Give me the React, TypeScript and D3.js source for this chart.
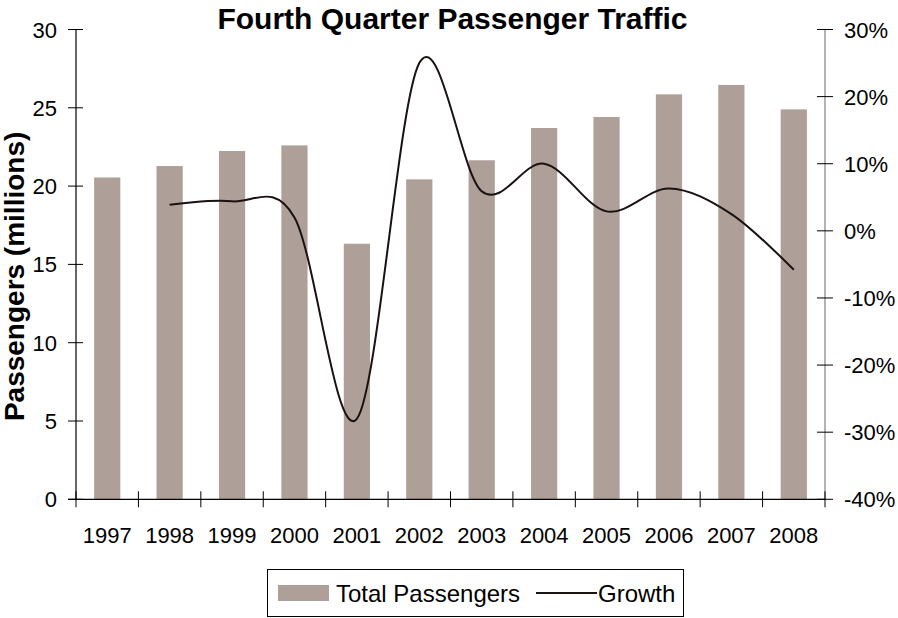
import React, { useEffect, useRef } from 'react';
import * as d3 from 'd3';

const years = ['1997', '1998', '1999', '2000', '2001', '2002', '2003', '2004', '2005', '2006', '2007', '2008'];
const passengers = [20.55, 21.28, 22.24, 22.6, 16.32, 20.43, 21.65, 23.71, 24.41, 25.86, 26.46, 24.9];
const growthYears = ['1998', '1999', '2000', '2001', '2002', '2003', '2004', '2005', '2006', '2007', '2008'];
const growth = [0.039, 0.044, 0.02, -0.28, 0.25, 0.059, 0.1, 0.029, 0.063, 0.025, -0.058];
const leftTicks = [0, 5, 10, 15, 20, 25, 30];
const rightTicks = [-0.4, -0.3, -0.2, -0.1, 0, 0.1, 0.2, 0.3];

const FONT = '"Liberation Sans", Arial, sans-serif';

const App = () => {
  const chartRef = useRef<SVGSVGElement>(null);

  useEffect(() => {
    const svg = d3.select(chartRef.current);
    svg.selectAll('*').remove();

    const width = 898;
    const height = 618;
    const margin = { top: 29.5, right: 73, bottom: 118.7, left: 76 };
    const plotBottom = height - margin.bottom;
    const plotRight = width - margin.right;

    const x = d3.scaleBand().domain(years).range([margin.left, plotRight]).padding(0);
    const barW = x.bandwidth() * 0.42;

    const y = d3.scaleLinear().domain([0, 30]).range([plotBottom, margin.top]);
    const y2 = d3.scaleLinear().domain([-0.4, 0.3]).range([plotBottom, margin.top]);
    const pct = (d: number) => `${Math.round(d * 100)}%`; // plain hyphen, as in the original

    svg.append('rect').attr('width', width).attr('height', height).attr('fill', '#fff');

    // bars
    svg.append('g')
      .selectAll('rect')
      .data(years)
      .join('rect')
        .attr('x', (d) => (x(d) as number) + (x.bandwidth() - barW) / 2)
        .attr('y', (d, i) => y(passengers[i]))
        .attr('width', barW)
        .attr('height', (d, i) => y(0) - y(passengers[i]))
        .attr('fill', '#aea098');

    // growth line, smoothed like the spreadsheet
    const line = d3.line<number>()
      .x((d, i) => (x(growthYears[i]) as number) + x.bandwidth() / 2)
      .y((d) => y2(d))
      .curve(d3.curveCardinal.tension(0));

    svg.append('path')
      .datum(growth)
      .attr('d', line)
      .attr('fill', 'none')
      .attr('stroke', '#1a1111')
      .attr('stroke-width', 2);

    // left axis
    const left = svg.append('g').attr('transform', `translate(${margin.left},0)`);
    left.append('line')
      .attr('y1', margin.top).attr('y2', plotBottom)
      .attr('stroke', '#000').attr('stroke-width', 1.2);
    left.selectAll('line.tick')
      .data(leftTicks)
      .join('line')
        .attr('class', 'tick')
        .attr('x1', -8).attr('x2', 7)
        .attr('y1', (d) => y(d)).attr('y2', (d) => y(d))
        .attr('stroke', '#000');
    left.selectAll('text')
      .data(leftTicks)
      .join('text')
        .attr('x', -19)
        .attr('y', (d) => y(d) + 8)
        .attr('text-anchor', 'end')
        .attr('font-size', 22)
        .attr('font-family', FONT)
        .text((d) => d);

    // right axis
    const right = svg.append('g').attr('transform', `translate(${plotRight},0)`);
    right.append('line')
      .attr('y1', margin.top).attr('y2', plotBottom)
      .attr('stroke', '#808080').attr('stroke-width', 1.2);
    right.selectAll('line.tick')
      .data(rightTicks)
      .join('line')
        .attr('class', 'tick')
        .attr('x1', -8).attr('x2', 8)
        .attr('y1', (d) => y2(d)).attr('y2', (d) => y2(d))
        .attr('stroke', '#000');
    right.selectAll('text')
      .data(rightTicks)
      .join('text')
        .attr('x', 19)
        .attr('y', (d) => y2(d) + 8)
        .attr('font-size', 22)
        .attr('font-family', FONT)
        .text((d) => pct(d));

    // bottom axis
    const bottom = svg.append('g');
    bottom.append('line')
      .attr('x1', margin.left - 8).attr('x2', plotRight)
      .attr('y1', plotBottom).attr('y2', plotBottom)
      .attr('stroke', '#000').attr('stroke-width', 1.2);
    bottom.selectAll('line.tick')
      .data([...years.map((d) => x(d) as number), plotRight])
      .join('line')
        .attr('class', 'tick')
        .attr('x1', (d) => d).attr('x2', (d) => d)
        .attr('y1', plotBottom - 8).attr('y2', plotBottom + 8)
        .attr('stroke', '#000');
    bottom.selectAll('text')
      .data(years)
      .join('text')
        .attr('x', (d) => (x(d) as number) + x.bandwidth() / 2)
        .attr('y', 543)
        .attr('text-anchor', 'middle')
        .attr('font-size', 22)
        .attr('font-family', FONT)
        .text((d) => d);

    // titles
    svg.append('text')
      .attr('x', 452.5)
      .attr('y', 29)
      .attr('text-anchor', 'middle')
      .attr('font-size', 30)
      .attr('font-weight', 'bold')
      .attr('font-family', FONT)
      .text('Fourth Quarter Passenger Traffic');

    svg.append('text')
      .attr('transform', `translate(24,${(margin.top + plotBottom) / 2 + 12}) rotate(-90)`)
      .attr('text-anchor', 'middle')
      .attr('font-size', 28)
      .attr('font-weight', 'bold')
      .attr('font-family', FONT)
      .text('Passengers (millions)');

    // legend
    const legend = svg.append('g');
    legend.append('rect')
      .attr('x', 267.5).attr('y', 569.5).attr('width', 416).attr('height', 47)
      .attr('fill', '#fff').attr('stroke', '#000');
    legend.append('rect')
      .attr('x', 278).attr('y', 585).attr('width', 51).attr('height', 16)
      .attr('fill', '#aea098');
    legend.append('text')
      .attr('x', 336).attr('y', 602)
      .attr('font-size', 24).attr('font-family', FONT)
      .text('Total Passengers');
    legend.append('line')
      .attr('x1', 536).attr('x2', 597).attr('y1', 593).attr('y2', 593)
      .attr('stroke', '#1a1111').attr('stroke-width', 2);
    legend.append('text')
      .attr('x', 598).attr('y', 602)
      .attr('font-size', 24).attr('font-family', FONT)
      .text('Growth');
  }, []);

  return (
    <svg
      ref={chartRef}
      width="898"
      height="618"
      style={{ position: 'absolute', left: 0, top: 0 }}
    ></svg>
  );
};

export default App;
